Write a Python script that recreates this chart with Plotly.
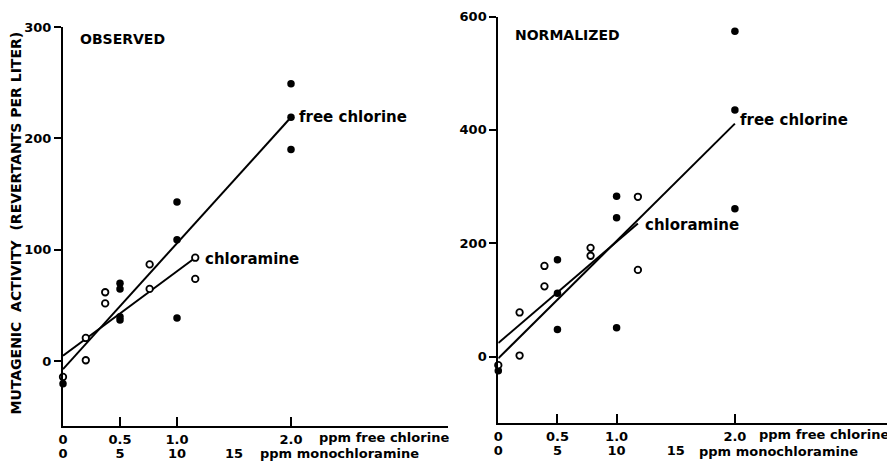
import plotly.graph_objects as go

# ---------------- data ----------------
# OBSERVED panel
obs_free_x = [0, 0.5, 0.5, 0.5, 0.5, 1.0, 1.0, 1.0, 2.0, 2.0, 2.0]          # ppm free chlorine
obs_free_y = [-20, 70, 65, 40, 37, 143, 109, 39, 249, 219, 190]
obs_mono_x = [0, 2.0, 2.0, 3.7, 3.7, 7.6, 7.6, 11.6, 11.6]                 # ppm monochloramine
obs_mono_y = [-14, 21, 1, 62, 52, 87, 65, 93, 74]
obs_free_fit_x = [0, 2.0]
obs_free_fit_y = [-7, 219]
obs_mono_fit_x = [0, 11.6]
obs_mono_fit_y = [5, 93]

# NORMALIZED panel
norm_free_x = [0, 0.5, 0.5, 0.5, 1.0, 1.0, 1.0, 2.0, 2.0, 2.0]
norm_free_y = [-25, 171, 112, 48, 283, 245, 51, 574, 435, 261]
norm_mono_x = [0, 1.8, 1.8, 3.9, 3.9, 7.8, 7.8, 11.8, 11.8]
norm_mono_y = [-15, 78, 2, 160, 124, 192, 178, 282, 153]
norm_free_fit_x = [0, 2.0]
norm_free_fit_y = [-3, 411]
norm_mono_fit_x = [0, 11.8]
norm_mono_fit_y = [24, 235]

free_ticks = [0, 0.5, 1.0, 2.0]
free_ticktext = ["0", "0.5", "1.0", "2.0"]
mono_ticks = [0, 5, 10, 15]
mono_ticktext = ["0", "5", "10", "15"]
obs_yticks = [0, 100, 200, 300]
norm_yticks = [0, 200, 400, 600]

# ---------------- figure ----------------
# the page body has an 8px default margin: shrink the figure so it fills the 895x462 window
OFF = 8
W, H = 895 - OFF, 462 - OFF
FONT = "DejaVu Sans"
fig = go.Figure()

filled = dict(symbol="circle", size=7.5, color="black", line=dict(width=0))
hollow = dict(symbol="circle", size=6.5, color="white", line=dict(width=1.8, color="black"))
fitline = dict(color="black", width=2)

# left panel
fig.add_trace(go.Scatter(x=obs_free_fit_x, y=obs_free_fit_y, mode="lines", line=fitline,
                         xaxis="x", yaxis="y", cliponaxis=False, showlegend=False))
fig.add_trace(go.Scatter(x=obs_mono_fit_x, y=obs_mono_fit_y, mode="lines", line=fitline,
                         xaxis="x3", yaxis="y", cliponaxis=False, showlegend=False))
fig.add_trace(go.Scatter(x=obs_free_x, y=obs_free_y, mode="markers", marker=filled,
                         xaxis="x", yaxis="y", cliponaxis=False, showlegend=False))
fig.add_trace(go.Scatter(x=obs_mono_x, y=obs_mono_y, mode="markers", marker=hollow,
                         xaxis="x3", yaxis="y", cliponaxis=False, showlegend=False))
# right panel
fig.add_trace(go.Scatter(x=norm_free_fit_x, y=norm_free_fit_y, mode="lines", line=fitline,
                         xaxis="x2", yaxis="y2", cliponaxis=False, showlegend=False))
fig.add_trace(go.Scatter(x=norm_mono_fit_x, y=norm_mono_fit_y, mode="lines", line=fitline,
                         xaxis="x4", yaxis="y2", cliponaxis=False, showlegend=False))
fig.add_trace(go.Scatter(x=norm_free_x, y=norm_free_y, mode="markers", marker=filled,
                         xaxis="x2", yaxis="y2", cliponaxis=False, showlegend=False))
fig.add_trace(go.Scatter(x=norm_mono_x, y=norm_mono_y, mode="markers", marker=hollow,
                         xaxis="x4", yaxis="y2", cliponaxis=False, showlegend=False))

tickfont = dict(family=FONT, size=13, color="black", weight="bold")

def px_x(p):
    return (p - OFF) / W

def px_y(p):
    return (H - (p - OFF)) / H

base_x = dict(showline=True, linewidth=2, linecolor="black", showgrid=False, zeroline=False,
              automargin=False,
              ticks="inside", ticklen=9, tickwidth=1.5, tickcolor="black",
              tickvals=free_ticks, ticktext=free_ticktext, tickfont=tickfont, ticklabelstandoff=0)
base_mono = dict(showline=False, showgrid=False, zeroline=False, ticks="", side="bottom",
                 automargin=False,
                 tickvals=mono_ticks, ticktext=mono_ticktext, tickfont=tickfont,
                 ticklabelstandoff=18)
base_y = dict(showline=True, linewidth=2, linecolor="black", showgrid=False, zeroline=False,
              automargin=False,
              ticks="outside", ticklen=7, tickwidth=1.5, tickcolor="black", tickfont=tickfont)

L_x0, L_x1 = 63, 448
R_x0, R_x1 = 498.3, 894
L_range = (L_x1 - L_x0) / 114.0
R_range = (R_x1 - R_x0) / 118.3

fig.update_layout(
    template="none",
    width=W, height=H, autosize=False,
    margin=dict(l=0, r=0, t=0, b=0, pad=0),
    paper_bgcolor="white", plot_bgcolor="white",
    xaxis=dict(base_x, domain=[px_x(L_x0), px_x(L_x1)], range=[0, L_range], anchor="y"),
    xaxis3=dict(base_mono, overlaying="x", anchor="y", range=[0, L_range * 10]),
    yaxis=dict(base_y, domain=[px_y(426), px_y(27)], range=[-58, 300], anchor="x",
               tickvals=obs_yticks),
    xaxis2=dict(base_x, domain=[px_x(R_x0), px_x(R_x1)], range=[0, R_range], anchor="y2"),
    xaxis4=dict(base_mono, overlaying="x2", anchor="y2", range=[0, R_range * 10]),
    yaxis2=dict(base_y, domain=[px_y(423), px_y(16.5)], range=[-117, 600], anchor="x2",
                tickvals=norm_yticks),
)

def ann(text, x, y, xref, yref, size, xanchor="left", angle=0):
    fig.add_annotation(text=text, x=x, y=y, xref=xref, yref=yref, showarrow=False,
                       xanchor=xanchor, yanchor="middle", textangle=angle,
                       font=dict(family=FONT, size=size, color="black", weight="bold"))

# panel titles
ann("OBSERVED", 0.13, 289, "x", "y", 14)
ann("NORMALIZED", 0.125, 567, "x2", "y2", 14)
# line labels
ann("free chlorine", 2.05, 219, "x", "y", 15)
ann("chloramine", 1.23, 92, "x", "y", 15)
ann("free chlorine", 2.03, 417, "x2", "y2", 15)
ann("chloramine", 1.22, 232, "x2", "y2", 15)
# unit labels
ann("ppm free chlorine", 2.23, px_y(437.5), "x", "paper", 13)
ann("ppm monochloramine", 17.1, px_y(453), "x3", "paper", 13)
ann("ppm free chlorine", 2.19, px_y(434), "x2", "paper", 13)
ann("ppm monochloramine", 16.8, px_y(451), "x4", "paper", 13)
# y-axis title
ann("MUTAGENIC  ACTIVITY  (REVERTANTS PER LITER)", px_x(15), px_y(223.5), "paper", "paper", 14,
    xanchor="center", angle=-90)

fig.write_html("out.html")
